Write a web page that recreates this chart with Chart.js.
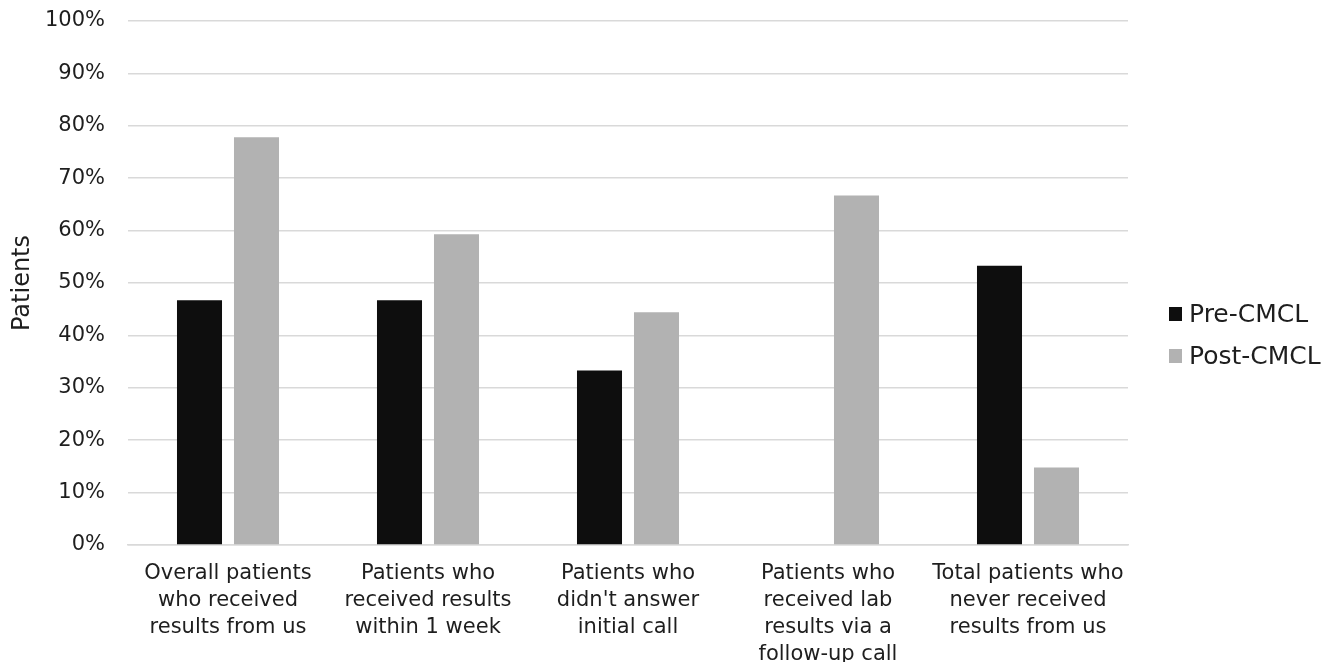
<!DOCTYPE html>
<html>
<head>
<meta charset="utf-8">
<style>
  html, body { margin: 0; padding: 0; background: #ffffff; }
  #wrap { width: 1340px; height: 662px; }
</style>
<script src="https://cdn.jsdelivr.net/npm/chart.js@4/dist/chart.umd.min.js"></script>
</head>
<body>
<div id="wrap"><canvas id="chart" width="1340" height="662"></canvas></div>
<script>
// Patient outreach outcomes before and after CMCL (percent of patients)
const categories = [
  ["Overall patients", "who received", "results from us"],
  ["Patients who", "received results", "within 1 week"],
  ["Patients who", "didn't answer", "initial call"],
  ["Patients who", "received lab", "results via a", "follow-up call"],
  ["Total patients who", "never received", "results from us"]
];
const preCMCL  = [46.7, 46.7, 33.3, 0, 53.3];
const postCMCL = [77.8, 59.3, 44.4, 66.7, 14.8];
const seriesNames = ["Pre-CMCL", "Post-CMCL"];
const yTicks = [0, 10, 20, 30, 40, 50, 60, 70, 80, 90, 100];

const FONT = "'DejaVu Sans', sans-serif";
const TEXT = "#1e1e1e";

// Legend drawn on the right side, vertically stacked
const sideLegend = {
  id: "sideLegend",
  afterDraw(chart) {
    const ctx = chart.ctx;
    const ds = chart.data.datasets;
    const x0 = 1169, startY = 314, step = 42;
    ctx.save();
    ctx.font = "25px " + FONT;
    ctx.textBaseline = "middle";
    ctx.textAlign = "left";
    ds.forEach((d, i) => {
      const cy = startY + i * step;
      ctx.fillStyle = d.backgroundColor;
      ctx.fillRect(x0, cy - 7, 13, 14);
      ctx.fillStyle = TEXT;
      ctx.fillText(d.label, x0 + 20, cy + 1);
    });
    ctx.restore();
  }
};

new Chart(document.getElementById("chart"), {
  type: "bar",
  data: {
    labels: categories,
    datasets: [
      { label: seriesNames[0], data: preCMCL,  backgroundColor: "#0e0e0e" },
      { label: seriesNames[1], data: postCMCL, backgroundColor: "#b2b2b2" }
    ]
  },
  options: {
    responsive: false,
    animation: false,
    devicePixelRatio: 1,
    layout: { padding: { top: 21, right: 212, left: 0, bottom: 0 } },
    categoryPercentage: 0.57,
    barPercentage: 0.79,
    plugins: {
      legend: { display: false },
      tooltip: { enabled: false }
    },
    scales: {
      x: {
        grid: { display: false, drawTicks: false },
        border: { display: true, color: "#d9d9d9", width: 1.5 },
        ticks: {
          color: TEXT,
          maxRotation: 0,
          autoSkip: false,
          padding: 15,
          font: { family: FONT, size: 21, lineHeight: "27px" }
        },
        afterFit(scale) { scale.height = 117; }
      },
      y: {
        min: 0,
        max: 100,
        afterBuildTicks(scale) { scale.ticks = yTicks.map(v => ({ value: v })); },
        grid: { color: "#d9d9d9", lineWidth: 1.5, drawTicks: false },
        border: { display: false },
        ticks: {
          color: TEXT,
          padding: 23,
          font: { family: FONT, size: 21 },
          callback: v => v + "%"
        },
        title: {
          display: true,
          text: "Patients",
          color: TEXT,
          padding: { top: 8, bottom: 0 },
          font: { family: FONT, size: 24 }
        },
        afterFit(scale) {
          scale.width = 128;
          scale.paddingTop = 0;
          scale.paddingBottom = 0;
        }
      }
    }
  },
  plugins: [sideLegend]
});
</script>
</body>
</html>
